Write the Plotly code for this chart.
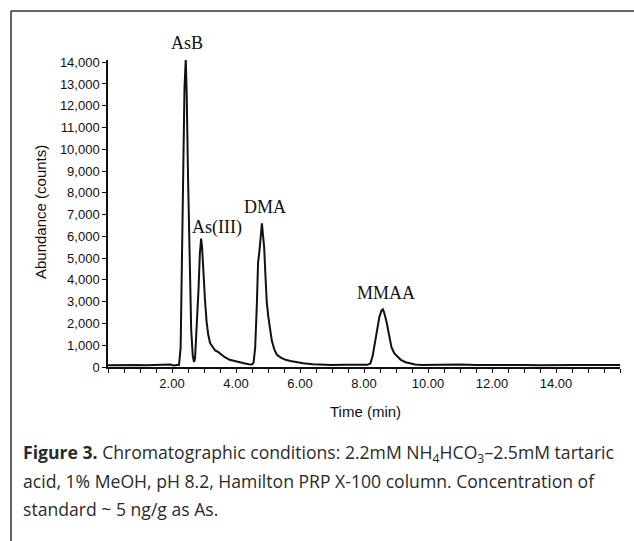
import plotly.graph_objects as go

# ---- data ----
time_min = [0.00, 0.30, 0.60, 0.90, 1.20, 1.50, 1.80, 1.95, 2.05, 2.15, 2.22,
            2.27, 2.31, 2.35, 2.39, 2.43, 2.46, 2.50, 2.55, 2.60, 2.65, 2.69,
            2.72, 2.76, 2.79, 2.83, 2.87, 2.91, 2.94, 2.98, 3.03, 3.08, 3.13,
            3.19, 3.27, 3.35, 3.45, 3.55, 3.65, 3.80, 3.95, 4.10, 4.25, 4.40,
            4.50, 4.55, 4.60, 4.65, 4.69, 4.73, 4.77, 4.81, 4.84, 4.88, 4.92,
            4.96, 5.01, 5.06, 5.12, 5.20, 5.28, 5.40, 5.55, 5.70, 5.90, 6.10,
            6.40, 6.70, 7.00, 7.40, 7.80, 8.10, 8.20, 8.27, 8.34, 8.41, 8.48,
            8.55, 8.59, 8.63, 8.70, 8.78, 8.86, 8.95, 9.05, 9.15, 9.30, 9.45,
            9.60, 9.80, 10.20, 10.60, 11.00, 11.50, 12.00, 12.50, 13.00, 13.50,
            14.00, 14.50, 15.00, 15.50, 16.00]
abundance = [80, 90, 75, 95, 85, 90, 80, 110, 70, 90, 100,
             900, 4500, 9000, 12800, 14150, 12500, 8800, 4500, 1700, 500, 230,
             400, 1500, 2900, 3600, 5200, 5900, 5500, 4200, 3100, 2100, 1500,
             1100, 900, 760, 680, 560, 450, 330, 270, 210, 170, 130,
             120, 200, 900, 2800, 4800, 5300, 5900, 6600, 6100, 5500, 4200,
             3000, 2300, 1700, 1200, 800, 560, 430, 330, 280, 220, 170,
             130, 110, 95, 100, 85, 100, 160, 500, 1100, 1800, 2300,
             2600, 2650, 2500, 2100, 1500, 900, 620, 450, 330, 220, 170,
             120, 90, 100, 80, 110, 90, 100, 85, 95, 80,
             100, 90, 95, 85, 90]

peak_names = ["AsB", "As(III)", "DMA", "MMAA"]
peak_label_x = [2.46, 3.40, 4.90, 8.69]
peak_label_y = [14870, 6425, 7343, 3396]

x_tick_vals = [2, 4, 6, 8, 10, 12, 14]
x_tick_text = ["2.00", "4.00", "6.00", "8.00", "10.00", "12.00", "14.00"]
y_tick_vals = list(range(0, 15000, 1000))
y_tick_text = ["0"] + [f"{v:,}" for v in y_tick_vals[1:]]

caption_lines = [
    "<b>Figure 3.</b> Chromatographic conditions: 2.2mM NH<sub>4</sub>HCO<sub>3</sub>\u20132.5mM tartaric",
    "acid, 1% MeOH, pH 8.2, Hamilton PRP X-100 column. Concentration of",
    "standard ~ 5 ng/g as As.",
]

# ---- layout geometry ----
W, H = 634, 541
L, R, T, B = 108, 14, 60, 174
PW, PH = W - L - R, H - T - B
Y_MAX = 14100


def px(xp):
    return (xp - L) / PW


def py(yp):
    return (H - B - yp) / PH


fig = go.Figure()
fig.add_trace(go.Scatter(x=time_min, y=abundance, mode="lines",
                         line=dict(color="#111111", width=2),
                         showlegend=False, hoverinfo="skip"))

annotations = []
for name, xv, yv in zip(peak_names, peak_label_x, peak_label_y):
    annotations.append(dict(x=xv, y=yv / Y_MAX, xref="x", yref="paper", text=name,
                            showarrow=False, xanchor="center", yanchor="middle",
                            font=dict(family="Liberation Serif, Times New Roman, serif",
                                      size=18, color="#111111")))

annotations.append(dict(x=px(40), y=py(212), xref="paper", yref="paper",
                        text="Abundance (counts)", textangle=-90, showarrow=False,
                        xanchor="center", yanchor="middle",
                        font=dict(family="Liberation Sans, Arial, sans-serif",
                                  size=15, color="#111111")))
annotations.append(dict(x=px(365), y=py(411), xref="paper", yref="paper",
                        text="Time (min)", showarrow=False,
                        xanchor="center", yanchor="middle",
                        font=dict(family="Liberation Sans, Arial, sans-serif",
                                  size=15, color="#111111")))

for i, line in enumerate(caption_lines):
    annotations.append(dict(x=px(21), y=py(453 + 28 * i), xref="paper", yref="paper",
                            text=line, showarrow=False,
                            xanchor="left", yanchor="middle", align="left",
                            font=dict(family="Open Sans, sans-serif",
                                      size=17.6, color="#2a2a2a")))

shapes = [
    dict(type="line", xref="paper", yref="paper",
         x0=px(11), y0=py(11), x1=px(640), y1=py(11),
         line=dict(color="#333333", width=1.5)),
    dict(type="line", xref="paper", yref="paper",
         x0=px(11), y0=py(11), x1=px(11), y1=py(545),
         line=dict(color="#333333", width=1.5)),
]

fig.update_layout(
    width=W, height=H,
    margin=dict(l=L, r=R, t=T, b=B, pad=0),
    paper_bgcolor="white", plot_bgcolor="white",
    annotations=annotations, shapes=shapes,
    xaxis=dict(range=[0, 16], tickvals=x_tick_vals, ticktext=x_tick_text,
               showgrid=False, zeroline=False, showline=True,
               linecolor="#111111", linewidth=1.5,
               ticks="outside", ticklen=4, tickwidth=1, tickcolor="#111111",
               minor=dict(tickmode="linear", tick0=0, dtick=0.5, ticks="outside",
                          ticklen=4, tickwidth=1, tickcolor="#111111"),
               tickfont=dict(family="Liberation Sans, Arial, sans-serif",
                             size=13, color="#111111")),
    yaxis=dict(range=[0, Y_MAX], tickvals=y_tick_vals, ticktext=y_tick_text,
               showgrid=False, zeroline=False, showline=True,
               linecolor="#111111", linewidth=1.5,
               ticks="outside", ticklen=4, tickwidth=1, tickcolor="#111111",
               tickfont=dict(family="Liberation Sans, Arial, sans-serif",
                             size=13, color="#111111")),
)

fig.write_html("out.html")
